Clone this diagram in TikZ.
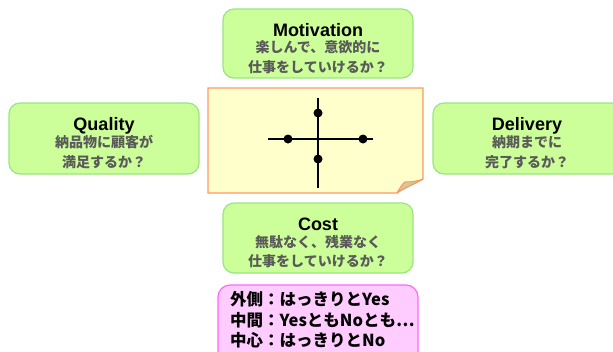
\documentclass[tikz,border=0pt]{standalone}
\usepackage{fontspec}
\setmainfont{Liberation Sans}
\newfontfamily\cjk{Noto Sans CJK JP}
\definecolor{gfill}{HTML}{CCFF99}
\definecolor{gline}{HTML}{99E680}
\definecolor{pfill}{HTML}{FFCCFF}
\definecolor{pline}{HTML}{FF66FF}
\definecolor{nfill}{HTML}{FFFFCC}
\definecolor{nline}{HTML}{FF9966}
\definecolor{ffill}{HTML}{CCCC99}
\definecolor{jgrey}{HTML}{5A5A5A}
\begin{document}
\begin{tikzpicture}[x=1pt,y=-1pt,
  gbox/.style={draw=gline, fill=gfill, line width=1.2pt, rounded corners=11pt},
  ttl/.style={anchor=base, inner sep=0pt, font=\fontsize{18}{20}\selectfont\bfseries},
  jp/.style={anchor=base, inner sep=0pt, text=jgrey, font=\cjk\bfseries\fontsize{14}{16}\selectfont},
  pk/.style={anchor=base west, inner sep=0pt, text=black, font=\cjk\bfseries\fontsize{16.5}{18}\selectfont},
  dot/.style={circle, fill=black, inner sep=0pt, minimum size=9pt},
  axis/.style={line width=2.6pt, black}]
\useasboundingbox (0,0) rectangle (613,351);
\fill[white] (0,0) rectangle (613,351);
\begin{scope}
\clip (0,0) rectangle (613,351);
% Motivation
\draw[gbox] (223,9) rectangle (413,78);
\node[ttl] (mt) at (318,36) {Motivation};
\node[jp] (m1) at (318,52.5) {楽しんで、意欲的に};
\node[jp] (m2) at (318,72.5) {仕事をしていけるか？};
% Quality
\draw[gbox] (9,103) rectangle (199,174);
\node[ttl] (qt) at (104,130) {Quality};
\node[jp] (q1) at (104,147.5) {納品物に顧客が};
\node[jp] (q2) at (104,167.5) {満足するか？};
% Delivery
\draw[gbox] (433,103) rectangle (623,174);
\node[ttl] (dt) at (527,130) {Delivery};
\node[jp] (d1) at (527,147.5) {納期までに};
\node[jp] (d2) at (527,167.5) {完了するか？};
% Cost
\draw[gbox] (223,203) rectangle (413,273);
\node[ttl] (ct) at (318,230) {Cost};
\node[jp] (c1) at (318,247.5) {無駄なく、残業なく};
\node[jp] (c2) at (318,266.5) {仕事をしていけるか？};
% note
\draw[draw=nline, fill=nfill, line width=1.3pt]
  (208,88) -- (423,88) -- (423,179) .. controls (412,185) and (402,189) .. (397,193) -- (208,193) -- cycle;
\draw[draw=nline, fill=ffill, line width=1.1pt]
  (397,193) .. controls (400,188) and (402,184) .. (405,182) .. controls (412,182) and (418,181) .. (423,179) .. controls (412,185) and (402,189) .. (397,193);
% cross
\coordinate (vt) at (318,98);
\coordinate (vb) at (318,188);
\coordinate (hl) at (268,139);
\coordinate (hr) at (373,139);
\draw[axis] (vt) -- (vb);
\draw[axis] (hl) -- (hr);
\node[dot] (top) at (318,113) {};
\node[dot] (bot) at (318,159) {};
\node[dot] (lft) at (288,139) {};
\node[dot] (rgt) at (363,139) {};
% legend
\draw[draw=pline, fill=pfill, line width=1.2pt, rounded corners=12pt] (218,285) rectangle (418,365);
\node[pk] (l1) at (230,305) {外側：はっきりとYes};
\node[pk] (l2) at (230,326.5) {中間：YesともNoとも…};
\node[pk] (l3) at (230,346.5) {中心：はっきりとNo};
\end{scope}
\end{tikzpicture}
\end{document}
